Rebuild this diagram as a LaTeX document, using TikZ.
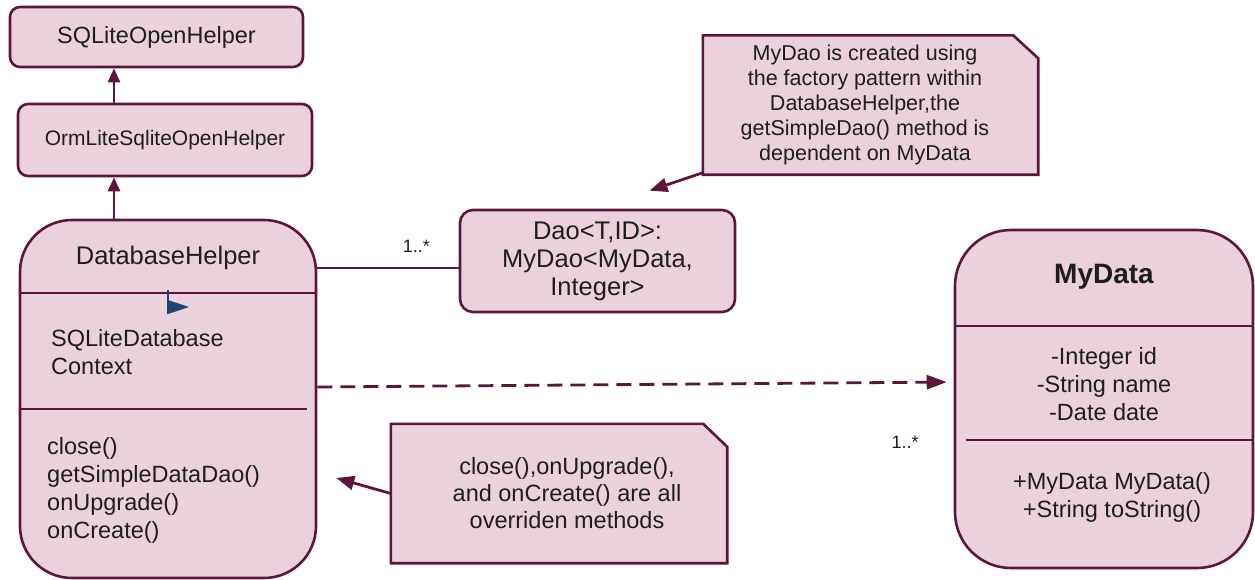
\documentclass[tikz,border=0pt]{standalone}
\usepackage{fontspec}
\setmainfont{Liberation Sans}
\usetikzlibrary{arrows.meta,backgrounds}

\definecolor{umlfill}{RGB}{234,209,220}
\definecolor{umlline}{RGB}{92,22,60}
\definecolor{umltext}{RGB}{30,30,30}
\definecolor{flagblue}{RGB}{28,72,112}

\tikzset{
  box/.style={draw=umlline, fill=umlfill, line width=2.6pt, text=umltext, inner sep=0pt},
  cls/.style={box, rounded corners=10pt},
  bigcls/.style={box, rounded corners=52pt},
  notetext/.style={draw=none, fill=none, text=umltext, align=center, inner sep=0pt},
  notebox/.style={draw=umlline, fill=umlfill, line width=2.6pt},
  member/.style={text=umltext, inner sep=0pt, font=\fontsize{23.5}{28}\selectfont},
  sepline/.style={draw=umlline, line width=2pt},
  mult/.style={text=umltext, inner sep=0pt, font=\fontsize{18}{20}\selectfont},
  link/.style={draw=umlline, line width=2.8pt},
  inh/.style={link, -{Triangle[length=14pt,width=12pt]}},
  dep/.style={link, dash pattern=on 15pt off 8pt, -{Triangle[length=20pt,width=14pt]}},
  noteptr/.style={link, -{Triangle[length=18pt,width=14pt]}},
}

\begin{document}
\begin{tikzpicture}[x=1pt, y=-1pt]
\useasboundingbox (0,0) rectangle (1255,579);

% inheritance chain
\node[cls, minimum width=293pt, minimum height=60pt,
      font=\fontsize{23.5}{28}\selectfont] (sqlite) at (156.5,37) {SQLiteOpenHelper};
\node[cls, minimum width=294pt, minimum height=72pt,
      font=\fontsize{21}{26}\selectfont] (orm) at (165,140) {OrmLiteSqliteOpenHelper};
\node[bigcls, minimum width=296pt, minimum height=358pt] (dbh) at (168,399) {};
\coordinate (spine) at (114,0);

\draw[inh] (orm.north -| spine) -- (sqlite.south -| spine);
\draw[inh] (dbh.north -| spine) -- (orm.south -| spine);

% DatabaseHelper compartments
\node[member, font=\fontsize{25.5}{28}\selectfont] (dbhname) at (168,258) {DatabaseHelper};
\draw[sepline] (dbh.west |- 0,293) -- (dbh.east |- 0,293);
\draw[sepline] (dbh.west |- 0,409) -- ([xshift=-10pt]dbh.east |- 0,409);
\node[member, anchor=west, align=left] (dbhattr) at (51,352) {SQLiteDatabase\\Context};
\node[member, anchor=west, align=left] (dbhops) at (47,490)
  {close()\\getSimpleDataDao()\\onUpgrade()\\onCreate()};
% little flag marker
\fill[flagblue] (168,300) -- (189,307) -- (168,314) -- cycle;
\draw[flagblue, line width=1.6pt] (168,290) -- (168,314);

% the dao
\node[cls, rounded corners=13pt, minimum width=275pt, minimum height=102pt, align=center,
      font=\fontsize{25.5}{28}\selectfont] (dao) at (597.5,261)
  {Dao<T,ID>:\\MyDao<MyData,\\Integer>};
\draw[link] (dbh.east |- 0,268) -- node[mult, pos=0.7, above=14pt] {1..*} (dao.west |- 0,268);

% MyData class
\node[bigcls, rounded corners=56pt, minimum width=298pt, minimum height=338pt] (mydata) at (1104,399) {};
\node[member, font=\bfseries\fontsize{28}{30}\selectfont] (mdname) at (1104,277) {MyData};
\draw[sepline] (mydata.west |- 0,326) -- (mydata.east |- 0,326);
\draw[sepline] ([xshift=12pt]mydata.west |- 0,440) -- (mydata.east |- 0,440);
\node[member, align=center] (mdattr) at (1104,384) {-Integer id\\-String name\\-Date date};
\node[member, align=center] (mdops) at (1112,497) {+MyData MyData()\\+String toString()};

\draw[dep, shorten >=7pt] ([yshift=12pt]dbh.east) -- ([yshift=17pt]mydata.west);
\node[mult] (mdmult) at (905,442) {1..*};

% notes
\node[notetext, minimum width=335pt, minimum height=139pt,
      font=\fontsize{21.5}{25}\selectfont] (note1) at (870.5,105)
  {\hspace*{-11pt}MyDao is created using\\\hspace*{-11pt}the factory pattern within\\
   \hspace*{-11pt}DatabaseHelper,the\\\hspace*{-11pt}getSimpleDao() method is\\
   \hspace*{-11pt}dependent on MyData};
\node[notetext, minimum width=336pt, minimum height=139pt,
      font=\fontsize{23.5}{27}\selectfont] (note2) at (559,493.5)
  {\hspace*{16pt}close(),onUpgrade(),\\\hspace*{16pt}and onCreate() are all\\
   \hspace*{16pt}overriden methods};
\begin{scope}[on background layer]
\draw[notebox] (note1.south west) -- (note1.north west) -- ([xshift=-25pt]note1.north east)
  -- ([yshift=-23pt]note1.north east) -- (note1.south east) -- cycle;
\draw[notebox] (note2.south west) -- (note2.north west) -- ([xshift=-24pt]note2.north east)
  -- ([yshift=-23pt]note2.north east) -- (note2.south east) -- cycle;
\end{scope}

\draw[noteptr] ([yshift=2pt]note1.south west) -- ([shift={(52pt,18pt)}]dao.north);
\draw[noteptr] (note2.west) -- ([shift={(19pt,-79pt)}]dbh.east);
\end{tikzpicture}
\end{document}
